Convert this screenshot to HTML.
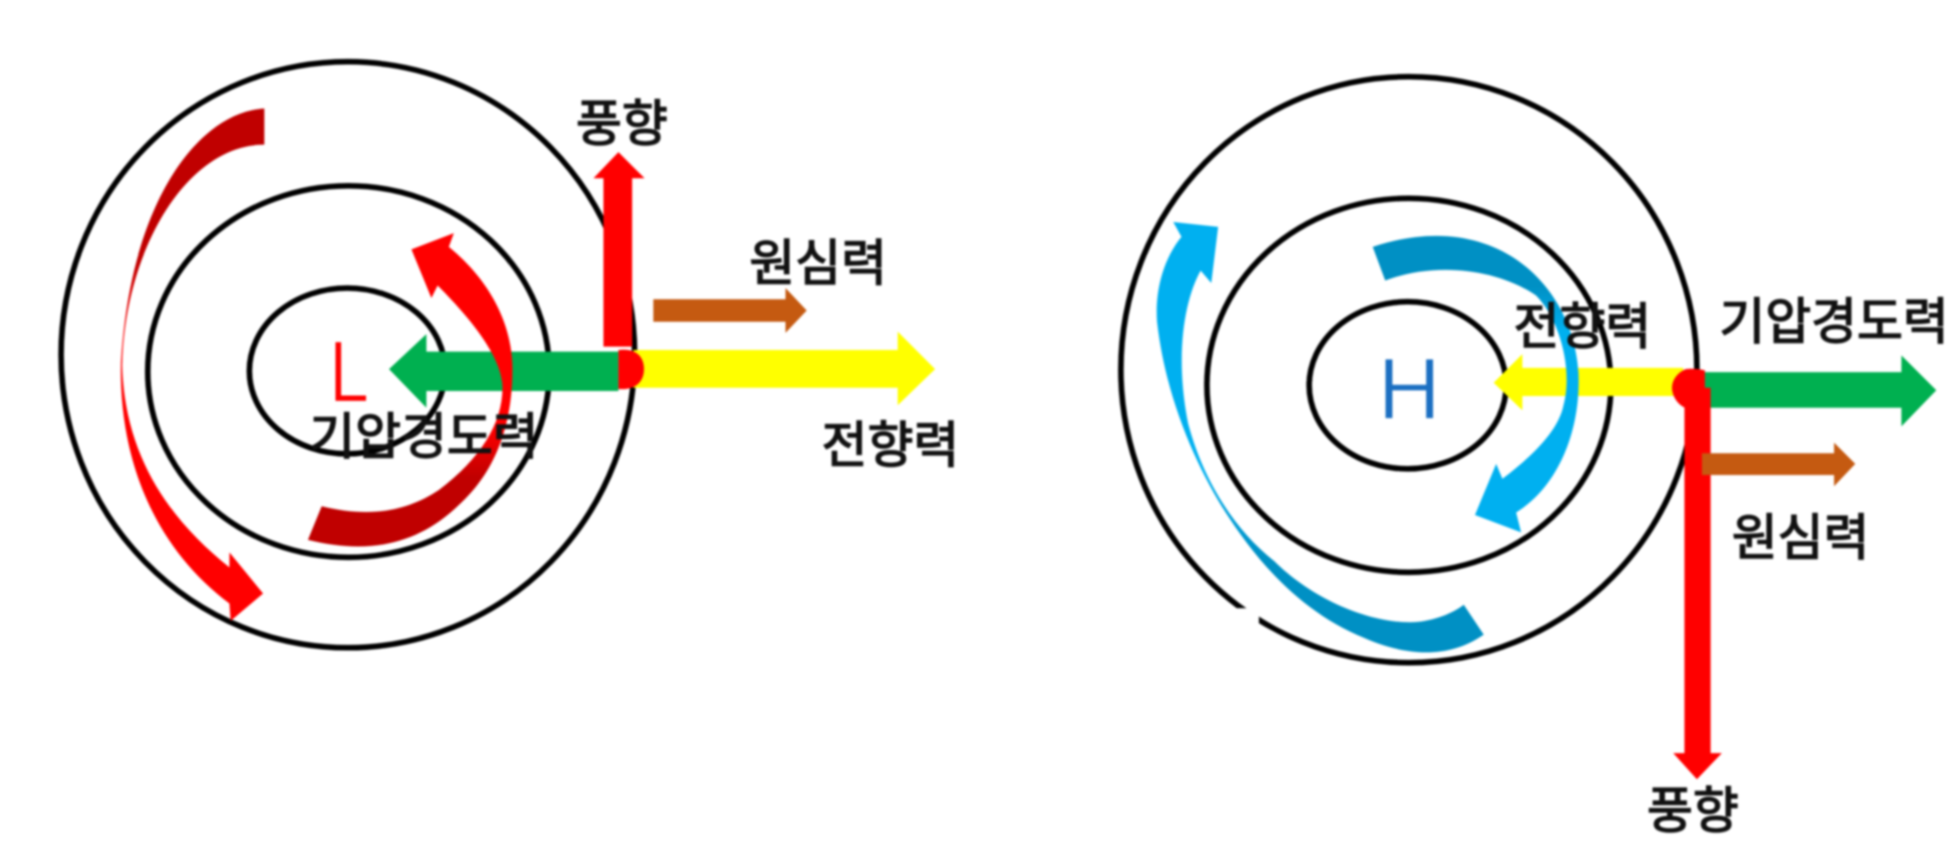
<!DOCTYPE html>
<html><head><meta charset="utf-8"><style>
html,body{margin:0;padding:0;background:#fff;width:1955px;height:842px;overflow:hidden}
svg{display:block;filter:blur(1.1px)}
.k{font-family:"Liberation Sans","Noto Sans CJK KR",sans-serif;font-size:40px;fill:#111;stroke:#111;stroke-width:1.2px}
.l{font-family:"Liberation Sans",sans-serif;font-size:70px}
</style></head><body>
<svg width="1955" height="842" viewBox="0 0 1568 675.3" xmlns="http://www.w3.org/2000/svg">
<defs>
<linearGradient id="r1" x1="0" y1="0" x2="0" y2="1"><stop offset=".3" stop-color="#c00000"/><stop offset=".46" stop-color="#f00"/></linearGradient>
<linearGradient id="r2" x1="0" y1="0" x2="0" y2="1"><stop offset=".62" stop-color="#f00"/><stop offset=".78" stop-color="#c00000"/></linearGradient>
<linearGradient id="b1" x1="0" y1="0" x2="0" y2="1"><stop offset=".58" stop-color="#00b0f0"/><stop offset=".78" stop-color="#0090c4"/></linearGradient>
<linearGradient id="b2" x1="0" y1="0" x2="0" y2="1"><stop offset=".17" stop-color="#0090c4"/><stop offset=".32" stop-color="#00b0f0"/></linearGradient>
</defs>
<rect width="1568" height="676" fill="#fff"/>
<g fill="none" stroke="#000" stroke-width="4.5">
<ellipse cx="279" cy="284.5" rx="230" ry="235"/>
<ellipse cx="279.5" cy="298" rx="161" ry="149"/>
<ellipse cx="278.5" cy="297.5" rx="78.5" ry="66.5"/>
<ellipse cx="1130" cy="296.5" rx="231" ry="235"/>
<ellipse cx="1130" cy="309" rx="162" ry="150"/>
<ellipse cx="1129" cy="309" rx="79" ry="67"/>
</g>
<rect x="990" y="487.8" width="19.7" height="12" fill="#fff"/>
<text class="l" transform="translate(264 322) scale(.82 1)" fill="#f00" stroke="#fff" stroke-width="1">L</text>
<text class="l" x="1105" y="336" fill="#1b6fc2" stroke="#fff" stroke-width="1">H</text>
<polygon fill="#ff0" points="508,280.7 720,280.7 720,266 750,296 720,325 720,311 508,311"/>
<polygon fill="#00b050" points="496,282 342,282 342,268 312,296 342,327 342,313.6 496,313.6"/>
<polygon fill="#c55a11" points="524,240 630,240 630,231 647,249 630,267 630,258 524,258"/>
<polygon fill="#f00" points="484,278 484,143 476,143 496,122 517,143 507,143 507,278"/>
<path fill="#f00" d="M496 280.7 C510 279 516.5 286 516.5 296 C516.5 306 510 313 496 312 Z"/>
<path fill="url(#r1)" d="M212 87 C160 90 105 160 97 290 C95 370 125 440 184 484 L185 498 L211 476 L184 443 L184 455 C140 420 100 370 98 293 C100 200 150 116 212 116 Z"/>
<path fill="url(#r2)" d="M364 187 L330 200 L346 239 L351 229 C384 262 403 290 403 311 C403 340 385 368 352 393 C325 411 295 415 258 406 L247 433 C295 445 335 437 368 405 C398 378 411 340 411 296 C411 260 393 225 360 198 Z"/>
<polygon fill="#ff0" points="1350,295 1221,295 1221,284 1198,307 1221,329 1221,317.6 1350,317.6"/>
<polygon fill="#00b050" points="1367,298.5 1525,298.5 1525,285 1553,313 1525,342 1525,327 1367,327"/>
<polygon fill="#f00" points="1351,311 1372,311 1372,604 1381,604 1361,625 1342,604 1351,604"/>
<path fill="#f00" d="M1367.4 297 C1362 295.5 1356 295.5 1352 296 C1345 299 1341 305 1341 311 C1341 319 1348 328 1356 328 L1372 327 L1367.4 327 Z"/>
<polygon fill="#c55a11" points="1365,363.5 1471,363.5 1471,355 1488,372 1471,390 1471,381 1365,381"/>
<path fill="url(#b1)" d="M941 178 L977 182 L971.5 227 L963 217 C950 240 942 285 953 340 C965 385 990 425 1022 450 C1050 478 1095 500 1134 499 C1150 498 1165 492 1174 485 L1190 509 C1160 530 1125 525 1095 512 C1040 490 1005 445 983 411 C960 375 935 320 928 258 C926 230 935 205 947.6 190 Z"/>
<path fill="url(#b2)" d="M1101 198 L1111 225 C1150 210 1200 215 1232 237 C1250 255 1262 295 1254 325 C1250 345 1230 365 1205 384 L1200 372 L1183 413 L1220 427 L1216 411 C1250 390 1268 345 1266 299 C1262 230 1200 165 1101 198 Z"/>
<text class="k" x="248" y="364">기압경도력</text>
<text class="k" x="462" y="113">풍향</text>
<text class="k" x="601" y="225">원심력</text>
<text class="k" x="659" y="371">전향력</text>
<text class="k" x="1214" y="276">전향력</text>
<text class="k" x="1379" y="272">기압경도력</text>
<text class="k" x="1389" y="445">원심력</text>
<text class="k" x="1321" y="664">풍향</text>
</svg>
</body></html>
